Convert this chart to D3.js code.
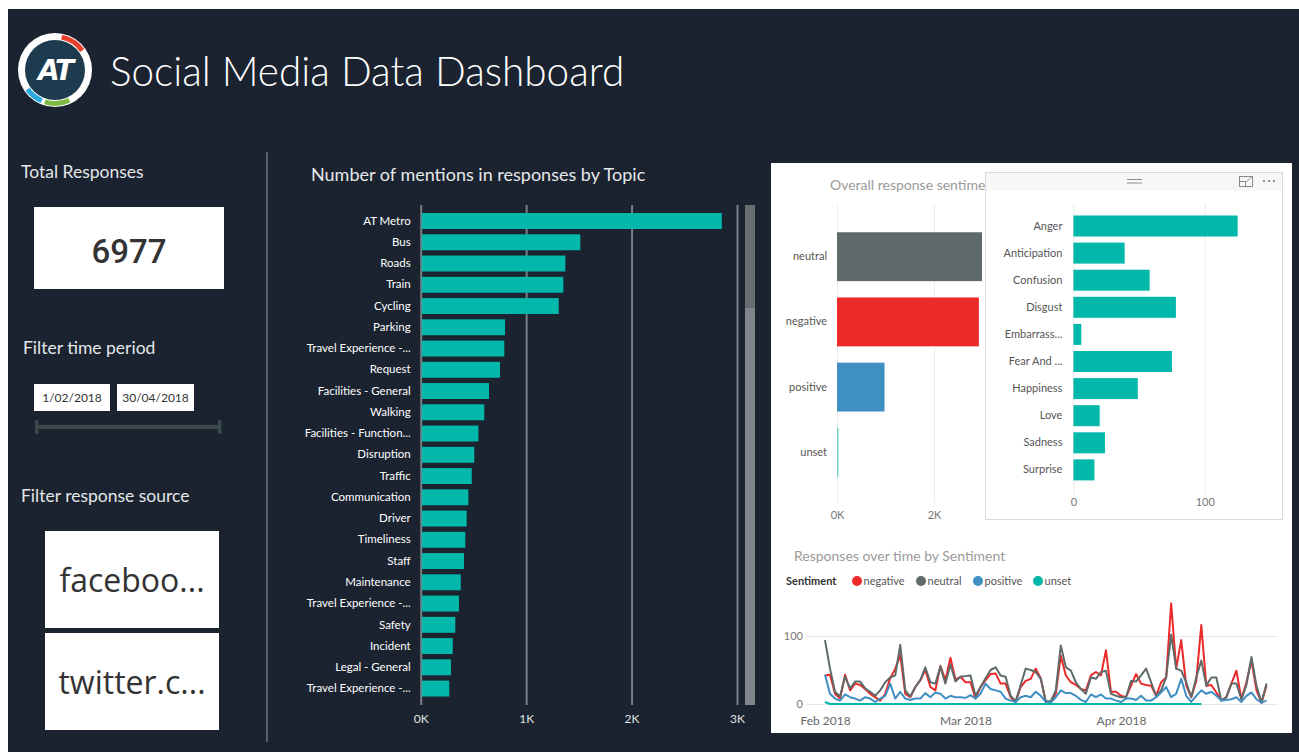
<!DOCTYPE html>
<html>
<head>
<meta charset="utf-8">
<script src="https://cdn.jsdelivr.net/npm/d3@7"></script>
<style>
  html, body { margin: 0; padding: 0; background: #fff; }
  svg { display: block; font-family: Lato, "Open Sans", sans-serif; }
</style>
</head>
<body>
<svg id="dash" width="1299" height="752"></svg>
<script>
// ---- data ----
const totalResponses = "6977";
const dateFrom = "1/02/2018";
const dateTo = "30/04/2018";
const sources = ["faceboo...", "twitter.c..."];

const topics = ["AT Metro", "Bus", "Roads", "Train", "Cycling", "Parking", "Travel Experience -...",
  "Request", "Facilities - General", "Walking", "Facilities - Function...", "Disruption", "Traffic",
  "Communication", "Driver", "Timeliness", "Staff", "Maintenance", "Travel Experience -...", "Safety",
  "Incident", "Legal - General", "Travel Experience -..."];
const topicMentions = [2856, 1514, 1372, 1353, 1309, 800, 793, 752, 648, 603, 547, 508, 484,
  452, 436, 423, 411, 380, 363, 328, 304, 287, 271];
const topicTicks = [0, 1000, 2000, 3000];

const sentiments = ["neutral", "negative", "positive", "unset"];
const sentimentCounts = [2990, 2925, 980, 32];
const sentimentTicks = [0, 2000];

const emotions = ["Anger", "Anticipation", "Confusion", "Disgust", "Embarrass...", "Fear And ...",
  "Happiness", "Love", "Sadness", "Surprise"];
const emotionCounts = [125, 39, 58, 78, 6, 75, 49, 20, 24, 16];
const emotionTicks = [0, 100];

const firstDay = "2018-02-01";
const lastDay = "2018-04-30";
const monthTicks = ["2018-02-01", "2018-03-01", "2018-04-01"];
const lineTicks = [0, 100];
const negativeDaily = [
  42, 43, 15, 8, 43, 20, 30, 28, 22, 15,
  10, 5, 15, 38, 52, 72, 15, 10, 25, 35,
  50, 25, 20, 56, 35, 68, 36, 40, 32, 32,
  8, 25, 35, 44, 45, 30, 30, 10, 3, 25,
  34, 37, 52, 38, 3, 3, 15, 71, 42, 32,
  28, 22, 20, 42, 47, 42, 79, 18, 18, 12,
  10, 27, 44, 30, 28, 27, 12, 32, 39, 148,
  52, 94, 27, 10, 34, 116, 27, 28, 17, 5,
  10, 30, 49, 7, 32, 64, 20, 2, 27];
const neutralDaily = [
  94, 52, 18, 11, 40, 23, 33, 33, 23, 18,
  12, 20, 32, 39, 42, 87, 20, 11, 25, 35,
  54, 32, 30, 55, 30, 58, 33, 40, 41, 42,
  12, 25, 38, 50, 54, 42, 40, 12, 4, 28,
  52, 50, 47, 37, 4, 4, 20, 86, 54, 49,
  32, 22, 15, 39, 37, 47, 49, 15, 12, 10,
  10, 34, 33, 42, 52, 32, 12, 20, 39, 102,
  52, 49, 32, 10, 39, 64, 27, 39, 39, 5,
  10, 30, 30, 7, 28, 69, 27, 2, 30];
const positiveDaily = [
  43, 15, 8, 5, 14, 10, 8, 5, 10, 8,
  3, 8, 12, 30, 8, 18, 8, 6, 8, 8,
  16, 10, 17, 15, 8, 12, 10, 10, 9, 13,
  8, 15, 30, 22, 20, 18, 8, 5, 3, 10,
  12, 10, 18, 12, 3, 2, 10, 20, 16, 16,
  12, 6, 3, 14, 10, 14, 8, 8, 5, 3,
  8, 8, 6, 12, 5, 5, 10, 17, 25, 10,
  15, 37, 12, 3, 12, 20, 15, 18, 12, 5,
  6, 7, 10, 3, 12, 17, 7, 2, 5];
const unsetDaily = [
  3, 0, 0, 0, 0, 0, 0, 0, 0, 0,
  0, 0, 0, 0, 0, 0, 0, 0, 0, 0,
  0, 0, 0, 0, 0, 0, 0, 0, 0, 0,
  0, 0, 0, 0, 0, 0, 0, 0, 0, 0,
  0, 0, 0, 0, 0, 0, 0, 0, 0, 0,
  0, 0, 0, 0, 0, 0, 0, 0, 0, 0,
  0, 0, 0, 0, 0, 0, 0, 0, 0, 0,
  0, 0, 0, 0, 0, 0];

// ---- styling ----
const navy = "#1a232f";
const teal = "#01b8aa";
const sentimentColors = { neutral: "#5f6a6b", negative: "#ec2a2a", positive: "#3f8fc2", unset: teal };

const svg = d3.select("#dash");
svg.append("rect").attr("width", 1299).attr("height", 752).attr("fill", "#fff");
svg.append("rect").attr("x", 8).attr("y", 9).attr("width", 1291).attr("height", 743).attr("fill", navy);

// ---- header ----
const logo = svg.append("g").attr("transform", "translate(55,70)");
logo.append("circle").attr("r", 37).attr("fill", "#fff");
const ring = d3.arc().innerRadius(31).outerRadius(36);
[[0.2, 0.95, "#e8412c"], [2.7, 3.45, "#7dbb42"], [3.55, 4.1, "#2aa8df"]].forEach(([a0, a1, c]) => {
  logo.append("path").attr("d", ring({ startAngle: a0, endAngle: a1 })).attr("fill", c);
});
logo.append("circle").attr("r", 30).attr("fill", "#1d3a4f");
logo.append("text").attr("text-anchor", "middle").attr("y", 10)
  .attr("font-family", "DejaVu Sans").attr("font-weight", "bold").attr("font-style", "italic")
  .attr("font-size", 28).attr("fill", "#fff").attr("letter-spacing", -2).text("AT");

svg.append("text").attr("x", 110).attr("y", 86).attr("font-size", 40.5).attr("font-weight", 300)
  .attr("fill", "#fff").text("Social Media Data Dashboard");

// ---- left filter column ----
const label = (x, y, t) => svg.append("text").attr("x", x).attr("y", y)
  .attr("font-size", 17.5).attr("fill", "#e4e6e8").text(t);

label(21, 178, "Total Responses");
svg.append("rect").attr("x", 34).attr("y", 207).attr("width", 190).attr("height", 82).attr("fill", "#fff");
svg.append("text").attr("x", 129).attr("y", 263).attr("text-anchor", "middle")
  .attr("font-family", "Roboto").attr("font-weight", 500).attr("font-size", 33).attr("fill", "#333")
  .text(totalResponses);

label(23, 354, "Filter time period");
[[34, 76, dateFrom], [117, 77, dateTo]].forEach(([x, w, t]) => {
  svg.append("rect").attr("x", x).attr("y", 384).attr("width", w).attr("height", 27).attr("fill", "#fff");
  svg.append("text").attr("x", x + w / 2).attr("y", 402).attr("text-anchor", "middle")
    .attr("font-size", 12).attr("fill", "#333").text(t);
});
svg.append("rect").attr("x", 36).attr("y", 425).attr("width", 184).attr("height", 4).attr("fill", "#3a4949");
[35, 218].forEach((x) => svg.append("rect").attr("x", x).attr("y", 420).attr("width", 3.5)
  .attr("height", 14).attr("rx", 1).attr("fill", "#3a4949"));

label(21, 502, "Filter response source");
sources.forEach((s, i) => {
  const y = i === 0 ? 531 : 633;
  svg.append("rect").attr("x", 45).attr("y", y).attr("width", 174).attr("height", 97).attr("fill", "#fff");
  svg.append("text").attr("x", 132).attr("y", y + 61).attr("text-anchor", "middle")
    .attr("font-family", "Open Sans").attr("font-size", 32).attr("fill", "#333").text(s);
});

svg.append("line").attr("x1", 267).attr("x2", 267).attr("y1", 152).attr("y2", 742)
  .attr("stroke", "#56606a").attr("stroke-width", 2);

// ---- mentions by topic ----
svg.append("text").attr("x", 311).attr("y", 181).attr("font-size", 18).attr("fill", "#e6e8ea")
  .text("Number of mentions in responses by Topic");

const xTopic = d3.scaleLinear().domain([0, 3000]).range([420.7, 737]);
const yTopic = d3.scaleBand().domain(d3.range(topics.length)).range([210.4, 699.2])
  .paddingInner(0.25).paddingOuter(0.125);

const topicGrid = svg.append("g").attr("transform", "translate(0,705)")
  .call(d3.axisBottom(xTopic).tickValues(topicTicks).tickFormat((d) => d / 1000 + "K")
    .tickSize(-500).tickPadding(9));
topicGrid.select(".domain").remove();
topicGrid.selectAll("line").attr("stroke", "#7a7f86").attr("stroke-width", 2);
topicGrid.selectAll("text").attr("font-size", 12).attr("fill", "#e0e2e4").attr("font-family", "Lato");

svg.append("rect").attr("x", 745).attr("y", 205).attr("width", 10).attr("height", 500).attr("fill", "#80858c");
svg.append("rect").attr("x", 745).attr("y", 205).attr("width", 10).attr("height", 103).attr("fill", "#686d72");

svg.append("g").selectAll("rect").data(topicMentions).join("rect")
  .attr("x", xTopic(0) + 1).attr("y", (d, i) => yTopic(i))
  .attr("width", (d) => xTopic(d) - xTopic(0) - 1).attr("height", yTopic.bandwidth())
  .attr("fill", teal);

const topicAxis = svg.append("g").attr("transform", `translate(${xTopic(0)},0)`)
  .call(d3.axisLeft(yTopic).tickFormat((i) => topics[i]).tickSize(0).tickPadding(10));
topicAxis.select(".domain").remove();
topicAxis.selectAll("text").attr("font-size", 11.5).attr("fill", "#fff").attr("font-family", "Lato");

// ---- white report panel on the right ----
svg.append("rect").attr("x", 771).attr("y", 163).attr("width", 521).attr("height", 570).attr("fill", "#fff");

// overall sentiment
svg.append("text").attr("x", 830).attr("y", 190).attr("font-size", 14).attr("fill", "#9a9a9a")
  .text("Overall response sentiment");
const xSent = d3.scaleLinear().domain([0, 2000]).range([837, 934]);
const ySent = d3.scaleBand().domain(sentiments).range([224.1, 484.9]).paddingInner(0.25).paddingOuter(0.125);
const sentGrid = svg.append("g").attr("transform", "translate(0,503)")
  .call(d3.axisBottom(xSent).tickValues(sentimentTicks).tickFormat((d) => d / 1000 + "K")
    .tickSize(-298).tickPadding(8));
sentGrid.select(".domain").remove();
sentGrid.selectAll("line").attr("stroke", "#ececec");
sentGrid.selectAll("text").attr("font-size", 11).attr("fill", "#777").attr("font-family", "Lato");
svg.append("g").selectAll("rect").data(sentiments).join("rect")
  .attr("x", xSent(0)).attr("y", (d) => ySent(d))
  .attr("width", (d, i) => Math.max(1, xSent(sentimentCounts[i]) - xSent(0)))
  .attr("height", ySent.bandwidth()).attr("fill", (d) => sentimentColors[d])
  .attr("fill-opacity", (d) => (d === "unset" ? 0.5 : 1));
const sentAxis = svg.append("g").attr("transform", "translate(837,0)")
  .call(d3.axisLeft(ySent).tickSize(0).tickPadding(10));
sentAxis.select(".domain").remove();
sentAxis.selectAll("text").attr("font-size", 11).attr("fill", "#555").attr("font-family", "Lato");

// responses over time
svg.append("text").attr("x", 794).attr("y", 561).attr("font-size", 14).attr("fill", "#9a9a9a")
  .text("Responses over time by Sentiment");
const legend = svg.append("g").attr("font-size", 11).attr("font-family", "Lato");
legend.append("text").attr("x", 786).attr("y", 585).attr("font-weight", "bold").attr("fill", "#333").text("Sentiment");
const legendX = [857, 921, 978, 1038];
["negative", "neutral", "positive", "unset"].forEach((s, i) => {
  legend.append("circle").attr("cx", legendX[i]).attr("cy", 581).attr("r", 5).attr("fill", sentimentColors[s]);
  legend.append("text").attr("x", legendX[i] + 6.5).attr("y", 585).attr("fill", "#555").text(s);
});

const parseDay = d3.timeParse("%Y-%m-%d");
const dayAt = (i) => d3.timeDay.offset(parseDay(firstDay), i);
const xTime = d3.scaleTime().domain([parseDay(firstDay), parseDay(lastDay)]).range([825, 1266.5]);
const yCount = d3.scaleLinear().domain([0, 100]).range([704, 636]);

const yGrid = svg.append("g").attr("transform", "translate(806,0)")
  .call(d3.axisLeft(yCount).tickValues(lineTicks).tickSize(-472).tickPadding(3));
yGrid.select(".domain").remove();
yGrid.selectAll("line").attr("stroke", "#e8e8e8");
yGrid.selectAll("text").attr("font-size", 11).attr("fill", "#777").attr("font-family", "Lato");

const xMonths = svg.append("g").attr("transform", "translate(0,712)")
  .call(d3.axisBottom(xTime).tickValues(monthTicks.map(parseDay)).tickFormat(d3.timeFormat("%b %Y"))
    .tickSize(0).tickPadding(4));
xMonths.select(".domain").remove();
xMonths.selectAll("text").attr("font-size", 12).attr("fill", "#666").attr("font-family", "Lato");

const line = d3.line().x((d, i) => xTime(dayAt(i))).y((d) => yCount(d));
[["negative", negativeDaily], ["neutral", neutralDaily], ["positive", positiveDaily], ["unset", unsetDaily]]
  .forEach(([s, values]) => {
    svg.append("path").datum(values).attr("d", line).attr("fill", "none")
      .attr("stroke", sentimentColors[s]).attr("stroke-width", 2).attr("stroke-linejoin", "round");
  });

// emotion visual floating on top
svg.append("rect").attr("x", 985.5).attr("y", 172.5).attr("width", 297).attr("height", 347)
  .attr("fill", "#fff").attr("stroke", "#dadada");
svg.append("rect").attr("x", 986).attr("y", 173).attr("width", 296).attr("height", 18).attr("fill", "#f7f7f7");
[179.5, 183].forEach((y) => svg.append("line").attr("x1", 1127).attr("x2", 1142).attr("y1", y).attr("y2", y)
  .attr("stroke", "#8a8a8a").attr("stroke-width", 1));
svg.append("rect").attr("x", 1239.5).attr("y", 176.5).attr("width", 13).attr("height", 10)
  .attr("fill", "none").attr("stroke", "#8a8a8a");
svg.append("path").attr("d", "M1239.5,181.5 H1245.5 V186.5 M1246,182 L1252,176.5 M1248.5,176.5 H1252.5 V180")
  .attr("fill", "none").attr("stroke", "#8a8a8a");
[1264, 1269, 1274].forEach((x) => svg.append("circle").attr("cx", x).attr("cy", 181).attr("r", 1.1).attr("fill", "#777"));

const xEmo = d3.scaleLinear().domain([0, 100]).range([1073.4, 1204.8]);
const yEmo = d3.scaleBand().domain(emotions).range([212.45, 483.45]).paddingInner(0.225).paddingOuter(0.1125);
const emoGrid = svg.append("g").attr("transform", "translate(0,495)")
  .call(d3.axisBottom(xEmo).tickValues(emotionTicks).tickSize(-291).tickPadding(3));
emoGrid.select(".domain").remove();
emoGrid.selectAll("line").attr("stroke", "#ececec");
emoGrid.selectAll("text").attr("font-size", 11).attr("fill", "#777").attr("font-family", "Lato");
svg.append("g").selectAll("rect").data(emotions).join("rect")
  .attr("x", xEmo(0)).attr("y", (d) => yEmo(d))
  .attr("width", (d, i) => xEmo(emotionCounts[i]) - xEmo(0)).attr("height", yEmo.bandwidth())
  .attr("fill", teal);
const emoAxis = svg.append("g").attr("transform", `translate(${xEmo(0)},0)`)
  .call(d3.axisLeft(yEmo).tickSize(0).tickPadding(11));
emoAxis.select(".domain").remove();
emoAxis.selectAll("text").attr("font-size", 11).attr("fill", "#555").attr("font-family", "Lato");
</script>
</body>
</html>
